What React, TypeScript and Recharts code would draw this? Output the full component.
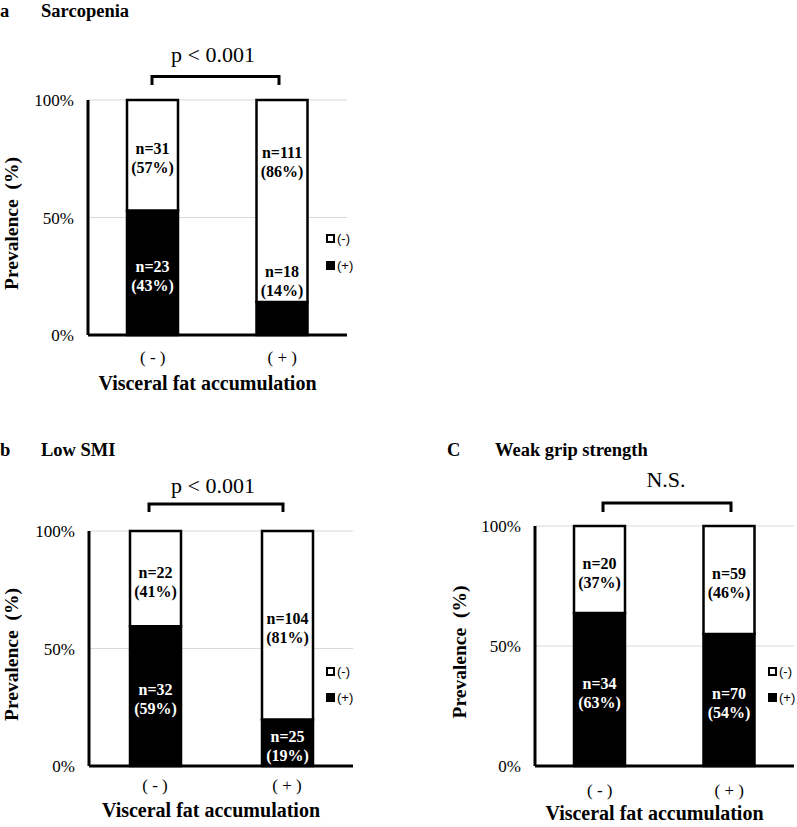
import React from 'react';
import { BarChart, Bar, XAxis, YAxis, CartesianGrid, LabelList, Label, Legend } from 'recharts';

const SERIF = 'Liberation Serif';
const SANS = 'Liberation Sans';

const groups = ['( - )', '( + )'];
const yTicks = [0, 50, 100];
const legendLabels = ['(-)', '(+)'];

// a: Sarcopenia
const sarcoPos = [53, 14];
const sarcoNeg = [47, 86];
const sarcoPosN = [23, 18];
const sarcoNegN = [31, 111];
const sarcoPosPct = [43, 14];
const sarcoNegPct = [57, 86];

// b: Low SMI
const smiPos = [59.5, 19.8];
const smiNeg = [40.5, 80.2];
const smiPosN = [32, 25];
const smiNegN = [22, 104];
const smiPosPct = [59, 19];
const smiNegPct = [41, 81];

// c: Weak grip strength
const gripPos = [63.7, 55];
const gripNeg = [36.3, 45];
const gripPosN = [34, 70];
const gripNegN = [20, 59];
const gripPosPct = [63, 54];
const gripNegPct = [37, 46];

type Row = { cat: string; pos: number; neg: number; posN: number; negN: number; posPct: number; negPct: number };

const buildRows = (pos: number[], neg: number[], posN: number[], negN: number[], posPct: number[], negPct: number[]): Row[] =>
  groups.map((cat, i) => ({ cat, pos: pos[i], neg: neg[i], posN: posN[i], negN: negN[i], posPct: posPct[i], negPct: negPct[i] }));

const sarcoRows = buildRows(sarcoPos, sarcoNeg, sarcoPosN, sarcoNegN, sarcoPosPct, sarcoNegPct);
const smiRows = buildRows(smiPos, smiNeg, smiPosN, smiNegN, smiPosPct, smiNegPct);
const gripRows = buildRows(gripPos, gripNeg, gripPosN, gripNegN, gripPosPct, gripNegPct);

const MIN_FIT = 45;

function makeSegLabel(rows: Row[], part: 'pos' | 'neg') {
  return (props: any) => {
    const idx = props.index;
    const row = rows[idx];
    if (!row) return null;
    const vb = props.viewBox || {};
    const x = Number(props.x ?? vb.x);
    const y = Number(props.y ?? vb.y);
    const w = Number(props.width ?? vb.width);
    const h = Number(props.height ?? vb.height);
    const cx = x + w / 2;
    let cy: number;
    let color: string;
    if (part === 'pos') {
      if (h < MIN_FIT) {
        cy = y - 21.5;
        color = '#000';
      } else {
        cy = y + h / 2 + 3;
        color = '#fff';
      }
    } else {
      const posH = (h * row.pos) / row.neg;
      const total = h + posH;
      cy = posH < MIN_FIT ? y + total / 4 + 3 : y + h / 2 + 3;
      color = '#000';
    }
    const n = part === 'pos' ? row.posN : row.negN;
    const pct = part === 'pos' ? row.posPct : row.negPct;
    const style = { fontFamily: SERIF, fontSize: 16, fontWeight: 700 } as const;
    return (
      <g>
        <text x={cx} y={cy - 9.5} textAnchor="middle" dominantBaseline="central" fill={color} fontFamily={SERIF} style={style}>
          {`n=${n}`}
        </text>
        <text x={cx} y={cy + 9.5} textAnchor="middle" dominantBaseline="central" fill={color} fontFamily={SERIF} style={style}>
          {`(${pct}%)`}
        </text>
      </g>
    );
  };
}

function LegendBox({ rowH }: { rowH: number }) {
  return (
    <div style={{ fontFamily: SANS, fontSize: 13, color: '#000', lineHeight: 1 }}>
      {legendLabels.map((lab, i) => (
        <div key={lab} style={{ display: 'flex', alignItems: 'center', height: rowH, whiteSpace: 'nowrap' }}>
          <span
            style={{
              display: 'inline-block',
              width: 9,
              height: 9,
              boxSizing: 'border-box',
              border: '2px solid #000',
              background: i === 0 ? '#fff' : '#000',
              marginRight: 2,
            }}
          />
          <span>{lab}</span>
        </div>
      ))}
    </div>
  );
}

const XTick = (props: any) => {
  const { x, y, payload } = props;
  return (
    <text x={x} y={y} dy="0.71em" textAnchor="middle" fill="#000" fontFamily={SERIF} fontSize={17} style={{ fontFamily: SERIF, fontSize: 17 }}>
      {payload.value}
    </text>
  );
};

const YTick = (props: any) => {
  const { x, y, payload } = props;
  return (
    <text x={x} y={y} dy="0.355em" textAnchor="end" fill="#000" fontFamily={SERIF} fontSize={17} style={{ fontFamily: SERIF, fontSize: 17 }}>
      {`${payload.value}%`}
    </text>
  );
};

type PanelProps = {
  rows: Row[];
  left: number;
  top: number;
  width: number;
  height: number;
  margin: { top: number; right: number; bottom: number; left: number };
  yAxisWidth: number;
  xTickGap: number;
  xTitleBaseline: number;
  yTitleX: number;
  legendLeft: number;
  legendTop: number;
  legendRow: number;
};

function Panel(p: PanelProps) {
  const XTitle = (lp: any) => {
    const vb = lp.viewBox || {};
    return (
      <text
        x={vb.x + vb.width / 2 - 10}
        y={vb.y + p.xTitleBaseline}
        textAnchor="middle"
        fill="#000"
        fontFamily={SERIF}
        fontWeight={700}
        fontSize={20}
        style={{ fontFamily: SERIF, fontSize: 20, fontWeight: 700 }}
      >
        Visceral fat accumulation
      </text>
    );
  };
  const YTitle = (lp: any) => {
    const vb = lp.viewBox || {};
    const cx = vb.x + p.yTitleX;
    const cy = vb.y + vb.height / 2 + 6;
    return (
      <text
        x={cx}
        y={cy}
        transform={`rotate(-90 ${cx} ${cy})`}
        textAnchor="middle"
        dominantBaseline="central"
        fill="#000"
        fontFamily={SERIF}
        fontWeight={700}
        fontSize={19.5}
        style={{ fontFamily: SERIF, fontSize: 19.5, fontWeight: 700 }}
      >
        {'Prevalence\u00a0\u00a0(%)'}
      </text>
    );
  };
  return (
    <div style={{ position: 'absolute', left: p.left, top: p.top, width: p.width, height: p.height, fontFamily: SERIF }}>
      <BarChart width={p.width} height={p.height} data={p.rows} margin={p.margin} barSize={51} style={{ fontFamily: SERIF }}>
        <CartesianGrid vertical={false} stroke="#d9d9d9" strokeWidth={1} />
        <XAxis
          dataKey="cat"
          height={30}
          interval={0}
          axisLine={{ stroke: '#000', strokeWidth: 3 }}
          tickLine={false}
          tickSize={0}
          tickMargin={p.xTickGap}
          tick={<XTick />}
        >
          <Label content={XTitle} />
        </XAxis>
        <YAxis
          type="number"
          domain={[0, 100]}
          ticks={yTicks}
          width={p.yAxisWidth}
          axisLine={{ stroke: '#000', strokeWidth: 3 }}
          tickLine={false}
          tickSize={0}
          tickMargin={14}
          tick={<YTick />}
        >
          <Label content={YTitle} />
        </YAxis>
        <Legend
          layout="horizontal"
          verticalAlign="middle"
          align="center"
          wrapperStyle={{ left: p.legendLeft, top: p.legendTop, width: 'auto', height: 'auto' }}
          content={() => <LegendBox rowH={p.legendRow} />}
        />
        <Bar dataKey="pos" name="(+)" stackId="s" fill="#000" stroke="#000" strokeWidth={2.5} isAnimationActive={false}>
          <LabelList dataKey="posN" content={makeSegLabel(p.rows, 'pos')} />
        </Bar>
        <Bar dataKey="neg" name="(-)" stackId="s" fill="#fff" stroke="#000" strokeWidth={2.5} isAnimationActive={false}>
          <LabelList dataKey="negN" content={makeSegLabel(p.rows, 'neg')} />
        </Bar>
      </BarChart>
    </div>
  );
}

const titleStyle = { fontFamily: SERIF, fontSize: 18.5, fontWeight: 700 } as const;
const statStyle = { fontFamily: SERIF, fontSize: 22 } as const;

export default function App() {
  return (
    <div style={{ position: 'absolute', left: 0, top: 0, width: 797, height: 827, background: '#fff', overflow: 'hidden', fontFamily: SERIF }}>
      <Panel
        rows={sarcoRows}
        left={0}
        top={0}
        width={400}
        height={410}
        margin={{ top: 100, right: 53, bottom: 45, left: 0 }}
        yAxisWidth={88}
        xTickGap={15.5}
        xTitleBaseline={55}
        yTitleX={11}
        legendLeft={326}
        legendTop={224.5}
        legendRow={27}
      />
      <Panel
        rows={smiRows}
        left={0}
        top={420}
        width={400}
        height={407}
        margin={{ top: 111, right: 47, bottom: 31, left: 0 }}
        yAxisWidth={89}
        xTickGap={12.5}
        xTitleBaseline={51}
        yTitleX={11.5}
        legendLeft={326}
        legendTop={238}
        legendRow={26}
      />
      <Panel
        rows={gripRows}
        left={397}
        top={420}
        width={400}
        height={407}
        margin={{ top: 106, right: 3, bottom: 31, left: 0 }}
        yAxisWidth={138}
        xTickGap={17.5}
        xTitleBaseline={54}
        yTitleX={62}
        legendLeft={371}
        legendTop={238}
        legendRow={26}
      />
      <svg width={797} height={827} style={{ position: 'absolute', left: 0, top: 0, pointerEvents: 'none' }}>
        <g fill="#000" fontFamily={SERIF}>
          <text x={0} y={17} style={titleStyle}>a</text>
          <text x={41} y={17} style={titleStyle}>Sarcopenia</text>
          <text x={213} y={61.5} textAnchor="middle" style={statStyle}>p &lt; 0.001</text>

          <text x={0} y={456} style={titleStyle}>b</text>
          <text x={41} y={456} style={titleStyle}>Low SMI</text>
          <text x={213} y={493} textAnchor="middle" style={statStyle}>p &lt; 0.001</text>

          <text x={447} y={456} style={titleStyle}>C</text>
          <text x={495} y={456} style={titleStyle}>Weak grip strength</text>
          <text x={666} y={487} textAnchor="middle" style={statStyle}>N.S.</text>
        </g>
        <g fill="none" stroke="#000" strokeWidth={3}>
          <path d="M152,85 V76.5 H279 V85" />
          <path d="M149,512 V504 H283 V512" />
          <path d="M603,512 V503 H731 V512" />
        </g>
      </svg>
    </div>
  );
}
